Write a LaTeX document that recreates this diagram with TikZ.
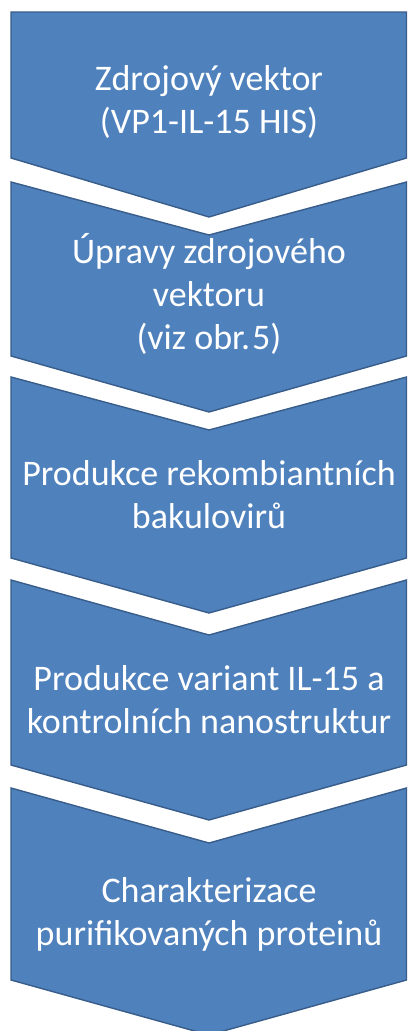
\documentclass[tikz,border=0pt]{standalone}
\usepackage{fontspec}
\setmainfont{Carlito}
\frenchspacing
\definecolor{chevfill}{RGB}{79,129,189}
\definecolor{chevline}{RGB}{56,93,138}
\tikzset{
  chev/.style={fill=chevfill, draw=chevline, line width=1.4pt, line join=miter},
  lbl/.style={text=white, inner sep=0pt, anchor=base, font=\fontsize{36}{43}\selectfont}
}
\begin{document}
\begin{tikzpicture}[x=1pt,y=-1pt]
\useasboundingbox (0,0) rectangle (408,1031);
\fill[white] (0,0) rectangle (408,1031);
% chevrons
\path[chev] (11,12) -- (406.5,12) -- (406.5,158) -- (209,217) -- (11,158) -- cycle;
\path[chev] (11,182) -- (209,235) -- (406.5,182) -- (406.5,356) -- (209,412) -- (11,356) -- cycle;
\path[chev] (11,377) -- (209,430) -- (406.5,377) -- (406.5,558) -- (209,613) -- (11,558) -- cycle;
\path[chev] (11,580) -- (209,635) -- (406.5,580) -- (406.5,765) -- (209,820) -- (11,765) -- cycle;
\path[chev] (11,788) -- (209,843) -- (406.5,788) -- (406.5,980) -- (209,1035) -- (11,980) -- cycle;
% labels
\node[lbl] (t1) at (209,90) {\begin{tabular}[t]{@{}c@{}}Zdrojový vektor\\(VP1-IL-15 HIS)\end{tabular}};
\node[lbl] (t2) at (209,263) {\begin{tabular}[t]{@{}c@{}}Úpravy zdrojového\\vektoru\\(viz obr.\kern2pt 5)\end{tabular}};
\node[lbl] (t3) at (209,485) {\begin{tabular}[t]{@{}c@{}}Produkce rekombiantních\\bakulovirů\end{tabular}};
\node[lbl] (t4) at (209,690) {\begin{tabular}[t]{@{}c@{}}Produkce variant IL-15 a\\kontrolních nanostruktur\end{tabular}};
\node[lbl] (t5) at (209,902) {\begin{tabular}[t]{@{}c@{}}Charakterizace\\purifikovaných proteinů\end{tabular}};
\end{tikzpicture}
\end{document}
